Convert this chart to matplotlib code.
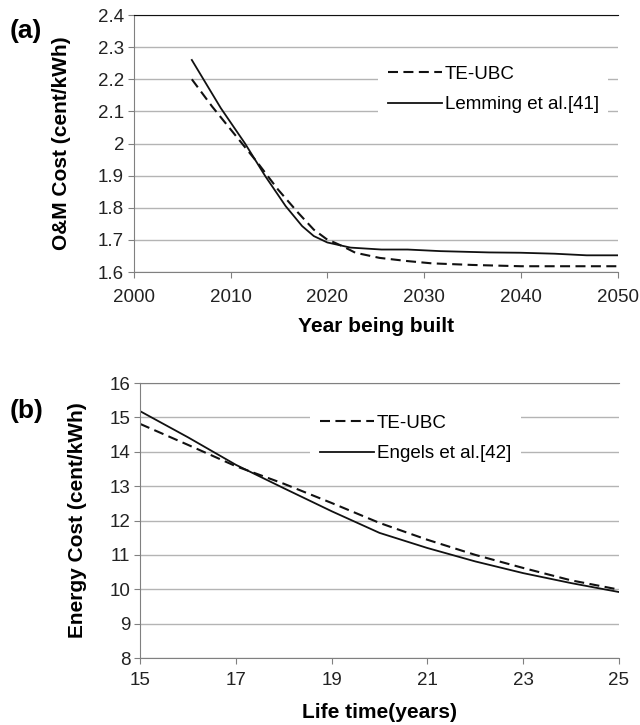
import matplotlib
matplotlib.use('Agg')
import matplotlib.pyplot as plt

plt.rcParams['font.family'] = ['Liberation Sans', 'DejaVu Sans']

# panel (a): O&M cost vs year being built
years_teubc = [2006, 2008.1, 2010.6, 2012.8, 2014.9, 2017, 2018.6, 2019.9, 2021.6, 2022.9, 2025.4, 2028.3, 2030.8, 2035, 2040, 2045, 2050]
om_teubc = [2.20, 2.115, 2.022, 1.94, 1.857, 1.784, 1.732, 1.703, 1.68, 1.66, 1.644, 1.634, 1.627, 1.622, 1.618, 1.618, 1.618]
years_lemming = [2006, 2008, 2009, 2011.5, 2013.6, 2015.7, 2017.4, 2018.6, 2020, 2022.4, 2025.6, 2028.3, 2031.7, 2036.7, 2040, 2043.5, 2046.8, 2050]
om_lemming = [2.26, 2.16, 2.11, 2.00, 1.898, 1.805, 1.743, 1.712, 1.692, 1.676, 1.670, 1.670, 1.665, 1.661, 1.660, 1.657, 1.652, 1.652]

# panel (b): energy cost vs life time
life = [15, 16, 17, 18, 19, 20, 21, 22, 23, 24, 25]
energy_teubc = [14.81, 14.20, 13.58, 13.07, 12.51, 11.93, 11.44, 11.00, 10.62, 10.26, 9.99]
energy_engels = [15.18, 14.42, 13.62, 12.94, 12.27, 11.64, 11.20, 10.81, 10.47, 10.18, 9.92]

grid_c = '#b4b4b4'
axis_c = '#808080'
dash = (0, (4.8, 2.6))


def style_axes(ax, top_color, xpad):
    ax.grid(axis='y', color=grid_c, lw=1.0)
    ax.set_axisbelow(True)
    ax.spines['right'].set_visible(False)
    ax.spines['top'].set_color(top_color)
    ax.spines['left'].set_color(axis_c)
    ax.spines['bottom'].set_color(axis_c)
    ax.tick_params(axis='both', direction='out', length=4, color=axis_c, labelsize=13.5, labelcolor='#222222')
    ax.tick_params(axis='y', pad=3)
    ax.tick_params(axis='x', pad=xpad)


def add_legend(ax, x, y):
    return ax.legend(loc='upper left', bbox_to_anchor=(x, y), frameon=True, fancybox=False,
                     edgecolor='none', facecolor='white', framealpha=1, fontsize=13.5,
                     handlelength=2.9, handletextpad=0.15, labelspacing=0.7, borderpad=0.5)


fig = plt.figure(figsize=(6.4, 7.25), dpi=100)

ax1 = fig.add_axes([0.209, 0.6248, 0.756, 0.3545])
ax1.plot(years_teubc, om_teubc, color='#111111', lw=1.5, ls=dash, label='TE-UBC')
ax1.plot(years_lemming, om_lemming, color='#111111', lw=1.3, label='Lemming et al.[41]')
ax1.set_xlim(2000, 2050)
ax1.set_ylim(1.6, 2.4)
ax1.set_xticks(range(2000, 2051, 10))
ax1.set_yticks([1.6, 1.7, 1.8, 1.9, 2.0, 2.1, 2.2, 2.3, 2.4])
ax1.set_yticklabels(['1.6', '1.7', '1.8', '1.9', '2', '2.1', '2.2', '2.3', '2.4'])
style_axes(ax1, '#111111', 8)
ax1.set_xlabel('Year being built', fontsize=15, fontweight='bold', labelpad=8)
ax1.set_ylabel('O&M Cost (cent/kWh)', fontsize=15, fontweight='bold', labelpad=19)
add_legend(ax1, 0.486, 0.875)
fig.text(0.015, 0.957, '(a)', fontsize=19, fontweight='bold', va='center')

ax2 = fig.add_axes([0.219, 0.0924, 0.748, 0.3793])
ax2.plot(life, energy_teubc, color='#111111', lw=1.5, ls=dash, label='TE-UBC')
ax2.plot(life, energy_engels, color='#111111', lw=1.3, label='Engels et al.[42]')
ax2.set_xlim(15, 25)
ax2.set_ylim(8, 16)
ax2.set_xticks([15, 17, 19, 21, 23, 25])
ax2.set_yticks(range(8, 17))
style_axes(ax2, axis_c, 6)
ax2.set_xlabel('Life time(years)', fontsize=15, fontweight='bold', labelpad=10)
ax2.set_ylabel('Energy Cost (cent/kWh)', fontsize=15, fontweight='bold', labelpad=16)
add_legend(ax2, 0.336, 0.953)
fig.text(0.015, 0.433, '(b)', fontsize=19, fontweight='bold', va='center')

fig.savefig('out.png', dpi=100)
